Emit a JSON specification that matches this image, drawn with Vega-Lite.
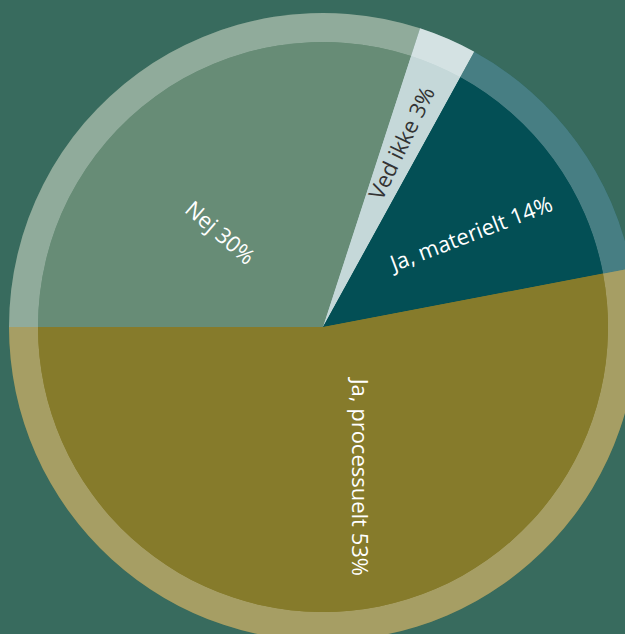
{
  "$schema": "https://vega.github.io/schema/vega-lite/v6.json",
  "width": 646,
  "height": 654,
  "autosize": "none",
  "padding": 0,
  "background": "#386b5e",
  "view": {"stroke": null},
  "data": {
    "values": [
      {"category": "Nej", "label": "Nej 30%", "value": 30, "order": 1},
      {"category": "Ved ikke", "label": "Ved ikke 3%", "value": 3, "order": 2},
      {"category": "Ja, materielt", "label": "Ja, materielt 14%", "value": 14, "order": 3},
      {"category": "Ja, processuelt", "label": "Ja, processuelt 53%", "value": 53, "order": 4}
    ]
  },
  "encoding": {
    "theta": {"field": "value", "type": "quantitative", "stack": true, "scale": {"range": [-1.5707963, 4.712389]}},
    "order": {"field": "order", "type": "quantitative"}
  },
  "layer": [
    {
      "mark": {"type": "arc", "outerRadius": 314},
      "encoding": {
        "color": {"field": "category", "type": "nominal", "legend": null,
          "scale": {"domain": ["Nej", "Ved ikke", "Ja, materielt", "Ja, processuelt"], "range": ["#678c76", "#c5d8d9", "#034f55", "#867b2b"]}}
      }
    },
    {
      "mark": {"type": "arc", "outerRadius": 314, "innerRadius": 285, "color": "#ffffff", "opacity": 0.27}
    },
    {
      "mark": {"type": "arc", "outerRadius": 285},
      "encoding": {
        "color": {"field": "category", "type": "nominal", "legend": null}
      }
    },
    {
      "mark": {"type": "text", "radius": 137, "angle": 41, "dx": -6, "dy": 28, "font": "Open Sans", "fontSize": 22, "color": "#ffffff", "align": "center", "baseline": "middle"},
      "encoding": {"text": {"condition": {"test": "datum.category === 'Nej'", "field": "label"}, "value": ""}}
    },
    {
      "mark": {"type": "text", "radius": 200, "angle": -64, "font": "Open Sans", "fontSize": 22, "color": "#333333", "align": "center", "baseline": "middle"},
      "encoding": {"text": {"condition": {"test": "datum.category === 'Ved ikke'", "field": "label"}, "value": ""}}
    },
    {
      "mark": {"type": "text", "radius": 175, "angle": -21, "dx": 3, "dy": 12, "font": "Open Sans", "fontSize": 22, "color": "#ffffff", "align": "center", "baseline": "middle"},
      "encoding": {"text": {"condition": {"test": "datum.category === 'Ja, materielt'", "field": "label"}, "value": ""}}
    },
    {
      "mark": {"type": "text", "radius": 153, "angle": 90, "dx": -2, "dy": -22, "font": "Open Sans", "fontSize": 22, "color": "#ffffff", "align": "center", "baseline": "middle"},
      "encoding": {"text": {"condition": {"test": "datum.category === 'Ja, processuelt'", "field": "label"}, "value": ""}}
    }
  ]
}
